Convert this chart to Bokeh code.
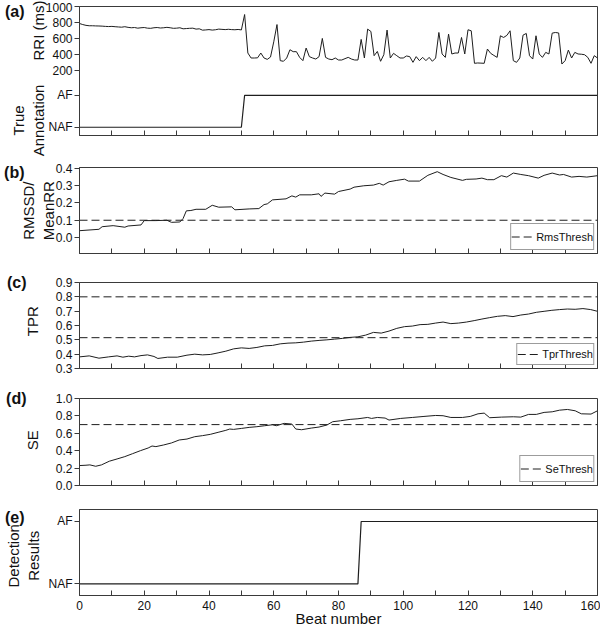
from bokeh.plotting import figure
from bokeh.models import (Range1d, FixedTicker, Legend, LegendItem, LinearAxis,
                          PrintfTickFormatter)
from bokeh.layouts import column
from bokeh.embed import file_html
from bokeh.resources import INLINE

# ---------------- data ----------------
beat_rri = list(range(0, 161))
rri_ms = [788, 775, 765, 760, 760, 758, 757, 755, 752, 750, 752, 748, 745, 742, 748, 740,
          735, 738, 730, 735, 738, 730, 728, 735, 738, 732, 735, 740, 735, 728, 730, 735,
          722, 725, 728, 730, 718, 722, 705, 708, 712, 706, 710, 718, 715, 712, 716, 712,
          710, 714, 708,
          900, 420, 358, 358, 360, 420, 358, 341, 370, 560, 775, 325, 317, 358, 461, 437,
          437, 366, 325, 482, 375, 358, 345, 375, 602, 366, 345, 337, 358, 333, 333, 350,
          366, 345, 333, 333, 590, 358, 718, 689, 387, 440, 317, 399, 706, 358, 416, 387,
          358, 358, 383, 375, 304, 375, 325, 366, 325, 366, 317, 358, 676, 408, 366, 656,
          408, 420, 420, 614, 408, 710, 697, 292, 296, 294, 292, 470, 416, 390, 366, 635,
          614, 640, 697, 325, 304, 358, 643, 664, 387, 345, 635, 408, 366, 428, 408, 668,
          676, 670, 283, 325, 457, 358, 428, 408, 405, 399, 366, 292, 387, 358]

ann_beat = [0, 50, 51, 160]
ann_state = [0, 0, 1, 1]          # 0 = NAF, 1 = AF
det_beat = [0, 86, 87, 160]
det_state = [0, 0, 1, 1]

rms_beat = [0, 6, 7, 10.4, 14, 15, 19, 20, 23.6, 27, 28.4, 31, 32, 33, 34.4, 36, 39, 41, 43,
            47, 48, 52.4, 55.4, 57, 58, 59.6, 63.8, 65.6, 66.8, 68, 71.6, 74, 74.6, 75.8,
            78.8, 80, 83.6, 84.8, 87.8, 90.8, 92.6, 93.8, 95.6, 98, 100.4, 101.6, 105,
            107.6, 110.5, 112.3, 114.7, 118.3, 119.5, 122.5, 124.3, 126, 128, 130.3, 132,
            134, 136.3, 138.7, 141.7, 143.5, 146, 148.3, 149.5, 152, 154.3, 156.7, 160]
rms_val = [0.040, 0.048, 0.063, 0.069, 0.060, 0.067, 0.073, 0.098, 0.098, 0.100, 0.088,
           0.090, 0.110, 0.154, 0.156, 0.163, 0.163, 0.186, 0.175, 0.177, 0.160, 0.165,
           0.167, 0.190, 0.194, 0.217, 0.223, 0.240, 0.233, 0.246, 0.246, 0.252, 0.237,
           0.256, 0.250, 0.265, 0.279, 0.290, 0.298, 0.302, 0.312, 0.302, 0.321, 0.329,
           0.336, 0.325, 0.325, 0.358, 0.379, 0.363, 0.346, 0.329, 0.335, 0.337, 0.342,
           0.333, 0.333, 0.356, 0.348, 0.371, 0.363, 0.356, 0.342, 0.358, 0.371, 0.360,
           0.363, 0.348, 0.352, 0.348, 0.356]

tpr_beat = [0, 3, 6, 9, 11.6, 13.4, 15.2, 17, 19, 21, 23, 24.2, 27.2, 30.2, 33.2, 35.6, 38,
            40.4, 42.8, 45.2, 47.6, 50, 52.4, 54.8, 57.2, 59.6, 62, 64.4, 66.8, 69.2, 71.6,
            74, 76.4, 78.8, 81.2, 83.6, 86, 88.4, 90.8, 93.2, 95.6, 98, 100.4, 102.8, 105.2,
            107.6, 110, 112.3, 114.7, 117.1, 119.5, 121.9, 124.3, 126.7, 129.1, 131.5,
            133.9, 136.3, 138.7, 141.1, 143.5, 145.9, 148.3, 150.7, 153.1, 155.5, 157.9, 160]
tpr_val = [0.381, 0.388, 0.372, 0.381, 0.388, 0.379, 0.386, 0.381, 0.390, 0.395, 0.384,
           0.370, 0.379, 0.379, 0.393, 0.400, 0.395, 0.398, 0.409, 0.421, 0.437, 0.444,
           0.440, 0.447, 0.458, 0.461, 0.472, 0.477, 0.479, 0.484, 0.491, 0.496, 0.500,
           0.505, 0.510, 0.517, 0.521, 0.533, 0.552, 0.547, 0.561, 0.580, 0.592, 0.596,
           0.606, 0.608, 0.617, 0.624, 0.613, 0.617, 0.624, 0.634, 0.645, 0.655, 0.664,
           0.669, 0.662, 0.673, 0.680, 0.692, 0.699, 0.706, 0.711, 0.715, 0.713, 0.718,
           0.711, 0.699]

se_beat = [0, 2, 3.2, 5, 6.8, 9.2, 11.6, 14, 16.4, 18.8, 21.2, 22.4, 23.6, 26, 28.4, 30.8,
           33.2, 35.6, 38, 40.4, 42.8, 45.2, 46.4, 47.6, 50, 52.4, 54.8, 57.2, 59.6, 60.8,
           63.2, 65.6, 66.8, 68.6, 71.6, 74, 76.4, 78.2, 80.6, 83.6, 86, 89, 90.2, 92, 94.4,
           95.6, 99.2, 102.8, 106.4, 110, 112.3, 114.7, 118.3, 120.7, 123.1, 125, 126.7,
           130.3, 134, 136.3, 138.7, 141.1, 143.5, 146, 148.3, 150.7, 153.1, 155, 158, 160]
se_val = [0.229, 0.233, 0.237, 0.221, 0.237, 0.279, 0.305, 0.332, 0.366, 0.400, 0.431,
          0.454, 0.447, 0.466, 0.489, 0.523, 0.534, 0.561, 0.573, 0.588, 0.611, 0.634,
          0.649, 0.645, 0.656, 0.668, 0.676, 0.687, 0.698, 0.687, 0.714, 0.706, 0.649,
          0.641, 0.660, 0.672, 0.695, 0.733, 0.744, 0.760, 0.767, 0.782, 0.771, 0.782,
          0.775, 0.752, 0.771, 0.782, 0.794, 0.805, 0.802, 0.782, 0.782, 0.794, 0.824,
          0.832, 0.779, 0.786, 0.790, 0.786, 0.817, 0.817, 0.840, 0.847, 0.866, 0.874,
          0.859, 0.824, 0.821, 0.859]

rms_thresh = 0.1
tpr_thresh_hi = 0.8
tpr_thresh_lo = 0.515
se_thresh = 0.7

x_major = [0, 20, 40, 60, 80, 100, 120, 140, 160]
x_minor = [10, 30, 50, 70, 90, 110, 130, 150]
rri_ticks = [200, 400, 600, 800, 1000]
state_labels = ["NAF", "AF"]
panel_tags = ["(a)", "(b)", "(c)", "(d)", "(e)"]

# ---------------- styling / layout ----------------
FONT = "Liberation Sans"
X0, X1 = 0, 160
FRAME_W = 518
BL, BR = 79, 3
LINE = "#1e1e1e"
FRAME = "#3a3a3a"
TXT = "#111111"
DASH = "8 4"

# level of NAF / AF inside panel (a) (shares the axis with RRI in ms)
A_NAF, A_AF = -505, -107


def make_fig(y0, y1, frame_h, top, bottom):
    p = figure(frame_width=FRAME_W, frame_height=frame_h,
               x_range=Range1d(X0, X1), y_range=Range1d(y0, y1),
               output_backend="svg", toolbar_location=None,
               min_border_left=BL, min_border_right=BR,
               min_border_top=top, min_border_bottom=bottom)
    p.grid.visible = False
    p.outline_line_color = FRAME
    p.outline_line_width = 1
    p.background_fill_color = "white"
    p.border_fill_color = "white"
    xa = p.xaxis[0]
    xa.ticker = FixedTicker(ticks=x_major, minor_ticks=x_minor)
    xa.major_tick_in = 5
    xa.major_tick_out = 0
    xa.minor_tick_in = 5
    xa.minor_tick_out = 0
    xa.major_tick_line_color = FRAME
    xa.minor_tick_line_color = FRAME
    xa.axis_line_color = FRAME
    xa.major_label_text_font = FONT
    xa.major_label_text_font_size = "12px"
    xa.major_label_text_color = TXT
    xa.major_label_standoff = 3
    ya = p.yaxis[0]
    ya.major_tick_out = 5
    ya.major_tick_in = 0
    ya.minor_tick_line_color = None
    ya.major_tick_line_color = FRAME
    ya.axis_line_color = FRAME
    ya.major_label_text_font = FONT
    ya.major_label_text_font_size = "12px"
    ya.major_label_text_color = TXT
    ya.major_label_standoff = 2
    return p


def hide_x_labels(p):
    xa = p.xaxis[0]
    xa.major_label_text_color = None
    xa.major_label_text_font_size = "1px"
    xa.major_label_standoff = 0


def text_axis(p, ticks, labels, standoff, orientation, size, bold=False):
    ax = LinearAxis(ticker=FixedTicker(ticks=ticks),
                    major_label_overrides=dict(zip(ticks, labels)),
                    major_label_orientation=orientation,
                    major_label_standoff=standoff,
                    major_tick_out=0, major_tick_in=0,
                    major_tick_line_color=None, minor_tick_line_color=None,
                    axis_line_color=None,
                    major_label_text_font=FONT, major_label_text_font_size=size,
                    major_label_text_font_style="bold" if bold else "normal",
                    major_label_text_color=TXT)
    p.add_layout(ax, "left")
    return ax


def y_titles(p, ticks, labels, standoff):
    return text_axis(p, ticks, labels, standoff, "parallel", "15px")


def tag(p, y, text, standoff):
    return text_axis(p, [y], [text], standoff, "horizontal", "16px", bold=True)


def add_legend(p, renderer, text, item_h):
    leg = Legend(items=[LegendItem(label=text, renderers=[renderer])],
                 location="bottom_right")
    leg.margin = 3
    leg.padding = 0
    leg.spacing = 0
    leg.glyph_width = 22
    leg.glyph_height = item_h
    leg.label_height = item_h
    leg.label_standoff = 3
    leg.label_text_font = FONT
    leg.label_text_font_size = "11px"
    leg.label_text_color = TXT
    leg.border_line_color = FRAME
    leg.border_line_width = 1
    leg.background_fill_alpha = 1
    p.add_layout(leg)


# ---- (a) RRI + true annotation
pa = make_fig(-608, 1000, 129, 6, 23)
hide_x_labels(pa)
pa.line(beat_rri, rri_ms, line_color=LINE, line_width=1)
ann_y = [A_NAF + s * (A_AF - A_NAF) for s in ann_state]
pa.line(ann_beat, ann_y, line_color=LINE, line_width=1.2)
pa.yaxis[0].ticker = FixedTicker(ticks=[A_NAF, A_AF] + rri_ticks)
pa.yaxis[0].major_label_overrides = {A_NAF: state_labels[0], A_AF: state_labels[1]}
y_titles(pa, [750, -420], [" \nRRI (ms)", "True\nAnnotation"], -5)
tag(pa, 938, panel_tags[0], -17)

# ---- (b) RMSSD / MeanRR
pb = make_fig(-0.091, 0.403, 86, 9, 17)
hide_x_labels(pb)
pb.line(rms_beat, rms_val, line_color=LINE, line_width=1)
rb = pb.line([X0, X1], [rms_thresh, rms_thresh], line_color=LINE, line_width=1,
             line_dash=DASH)
pb.yaxis[0].ticker = FixedTicker(ticks=[0.0, 0.1, 0.2, 0.3, 0.4])
pb.yaxis[0].formatter = PrintfTickFormatter(format="%.1f")
add_legend(pb, rb, "RmsThresh", 25)
y_titles(pb, [0.155], ["RMSSD/\nMeanRR"], -5)
tag(pb, 0.374, panel_tags[1], -7)

# ---- (c) TPR
pc = make_fig(0.3, 0.9, 86, 12, 16)
hide_x_labels(pc)
pc.line(tpr_beat, tpr_val, line_color=LINE, line_width=1)
rc = pc.line([X0, X1], [tpr_thresh_lo, tpr_thresh_lo], line_color=LINE, line_width=1,
             line_dash=DASH)
pc.line([X0, X1], [tpr_thresh_hi, tpr_thresh_hi], line_color=LINE, line_width=1,
        line_dash=DASH)
pc.yaxis[0].ticker = FixedTicker(ticks=[0.3, 0.4, 0.5, 0.6, 0.7, 0.8, 0.9])
pc.yaxis[0].formatter = PrintfTickFormatter(format="%.1f")
add_legend(pc, rc, "TprThresh", 20)
y_titles(pc, [0.63], ["TPR"], 11)
tag(pc, 0.9, panel_tags[2], -5)

# ---- (d) SE
pd_ = make_fig(0.0, 1.0, 87, 14, 12)
hide_x_labels(pd_)
pd_.line(se_beat, se_val, line_color=LINE, line_width=1)
rd = pd_.line([X0, X1], [se_thresh, se_thresh], line_color=LINE, line_width=1,
              line_dash=DASH)
pd_.yaxis[0].ticker = FixedTicker(ticks=[0.0, 0.2, 0.4, 0.6, 0.8, 1.0])
pd_.yaxis[0].formatter = PrintfTickFormatter(format="%.1f")
add_legend(pd_, rd, "SeThresh", 25)
y_titles(pd_, [0.52], ["SE"], 11)
tag(pd_, 1.0, panel_tags[3], -5)

# ---- (e) detection results
pe = make_fig(-0.186, 1.192, 86, 12, 33)
pe.line(det_beat, det_state, line_color=LINE, line_width=1.2)
pe.yaxis[0].ticker = FixedTicker(ticks=[0, 1])
pe.yaxis[0].major_label_overrides = {0: state_labels[0], 1: state_labels[1]}
pe.xaxis[0].major_label_standoff = 5
pe.xaxis[0].axis_label = "Beat number"
pe.xaxis[0].axis_label_text_font = FONT
pe.xaxis[0].axis_label_text_font_size = "15px"
pe.xaxis[0].axis_label_text_font_style = "normal"
pe.xaxis[0].axis_label_text_color = TXT
pe.xaxis[0].axis_label_standoff = -3
y_titles(pe, [0.45], ["Detection\nResults"], 3)
tag(pe, 1.064, panel_tags[4], -22)

layout = column(pa, pb, pc, pd_, pe, spacing=0)
open("out.html", "w").write(file_html(layout, INLINE))
